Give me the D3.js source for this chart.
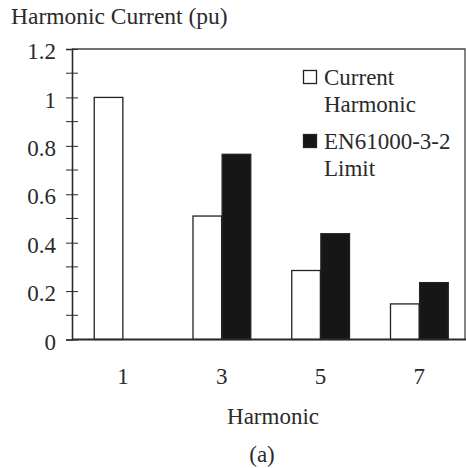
<!DOCTYPE html>
<html>
<head>
<meta charset="utf-8">
<script src="https://cdn.jsdelivr.net/npm/d3@7"></script>
<style>
  html, body { margin: 0; padding: 0; background: #fff; }
  svg { display: block; }
  svg text { font-family: "Liberation Serif", Tinos, "Times New Roman", "DejaVu Serif", serif; fill: #2a2a2a; }
</style>
</head>
<body>
<svg id="chart"></svg>
<script>
// Data
const harmonics = ["1", "3", "5", "7"];
const currentHarmonic = [1.0, 0.51, 0.285, 0.147];
const enLimit = [null, 0.765, 0.437, 0.235];
const seriesNames = ["Current Harmonic", "EN61000-3-2 Limit"];
const yTicks = [0, 0.2, 0.4, 0.6, 0.8, 1, 1.2];
const yTickLabels = ["0", "0.2", "0.4", "0.6", "0.8", "1", "1.2"];
const yMinorTicks = [0.1, 0.3, 0.5, 0.7, 0.9, 1.1];

const width = 466, height = 468;
const plotLeft = 72, plotRight = 465, plotTop = 49, plotBottom = 339.5;
const ink = "#2a2a2a";
const serif = "'Liberation Serif', Tinos, 'Times New Roman', 'DejaVu Serif', serif";

const svg = d3.select("#chart").attr("width", width).attr("height", height)
    .attr("font-family", serif);

// Scales
const y = d3.scaleLinear().domain([0, 1.2]).range([plotBottom, plotTop]);
const x0 = d3.scaleBand().domain(harmonics).range([73.5, 468.5])
    .paddingInner(0.41).paddingOuter(0.205);
const x1 = d3.scaleBand().domain(seriesNames).range([0, x0.bandwidth()]);

const rows = harmonics.map((h, i) => ({
    h,
    values: [
        { s: seriesNames[0], v: currentHarmonic[i] },
        { s: seriesNames[1], v: enLimit[i] }
    ].filter(d => d.v != null)
}));

const fillFor = s => s === seriesNames[0] ? "#fff" : "#161616";

// Bars
svg.append("g")
    .selectAll("g")
    .data(rows)
    .join("g")
    .attr("transform", d => `translate(${x0(d.h)},0)`)
    .selectAll("rect")
    .data(d => d.values)
    .join("rect")
    .attr("x", d => x1(d.s) + 0.5)
    .attr("y", d => y(d.v))
    .attr("width", x1.bandwidth() - 0.5)
    .attr("height", d => y(0) - y(d.v))
    .attr("fill", d => fillFor(d.s))
    .attr("stroke", "#222")
    .attr("stroke-width", 1.3);

// Frame (top and right edges)
svg.append("path")
    .attr("d", `M${plotLeft},${plotTop}H${plotRight}V${plotBottom}`)
    .attr("fill", "none")
    .attr("stroke", "#444")
    .attr("stroke-width", 1.3);

// Y axis with ticks crossing the axis line
const yAxis = svg.append("g")
    .attr("transform", `translate(${plotLeft},0)`)
    .call(d3.axisLeft(y).tickValues(yTicks)
        .tickFormat((d, i) => yTickLabels[i]).tickSize(6).tickPadding(10));
yAxis.attr("font-family", serif).attr("font-size", 23);
yAxis.select(".domain").attr("stroke", ink).attr("stroke-width", 1.6);
yAxis.selectAll(".tick line").attr("x1", 6).attr("x2", -6).attr("stroke", ink);
yAxis.selectAll(".tick text").attr("fill", ink).attr("dy", "0.42em");

svg.append("g")
    .selectAll("line")
    .data(yMinorTicks)
    .join("line")
    .attr("x1", plotLeft - 6).attr("x2", plotLeft + 6)
    .attr("y1", d => y(d)).attr("y2", d => y(d))
    .attr("stroke", ink);

// X axis (baseline + category labels)
const xAxis = svg.append("g")
    .attr("transform", `translate(0,${plotBottom})`)
    .call(d3.axisBottom(x0).tickSize(0).tickPadding(28));
xAxis.attr("font-family", serif).attr("font-size", 23);
xAxis.select(".domain").remove();
xAxis.selectAll(".tick text").attr("fill", ink);

svg.append("line")
    .attr("x1", plotLeft).attr("x2", width)
    .attr("y1", plotBottom).attr("y2", plotBottom)
    .attr("stroke", ink).attr("stroke-width", 1.8);

// Titles
svg.append("text")
    .attr("x", 11).attr("y", 24)
    .attr("font-size", 23.5)
    .text("Harmonic Current (pu)");

svg.append("text")
    .attr("x", 273).attr("y", 424)
    .attr("text-anchor", "middle")
    .attr("font-size", 23)
    .text("Harmonic");

svg.append("text")
    .attr("x", 262).attr("y", 462)
    .attr("text-anchor", "middle")
    .attr("font-size", 23)
    .text("(a)");

// Legend
const legend = svg.append("g").attr("transform", "translate(303,0)");
const legendItems = [
    { s: seriesNames[0], lines: ["Current", "Harmonic"], y: 85 },
    { s: seriesNames[1], lines: ["EN61000-3-2", "Limit"], y: 149 }
];
const item = legend.selectAll("g").data(legendItems).join("g");
item.append("rect")
    .attr("x", 0.5).attr("y", d => d.y - 14.5)
    .attr("width", 13).attr("height", 13)
    .attr("fill", d => fillFor(d.s))
    .attr("stroke", "#222").attr("stroke-width", 1.3);
item.append("text")
    .attr("x", 21).attr("y", d => d.y)
    .attr("font-size", 23)
    .selectAll("tspan")
    .data(d => d.lines)
    .join("tspan")
    .attr("x", 21)
    .attr("dy", (d, i) => i === 0 ? 0 : 26.5)
    .text(d => d);
</script>
</body>
</html>
